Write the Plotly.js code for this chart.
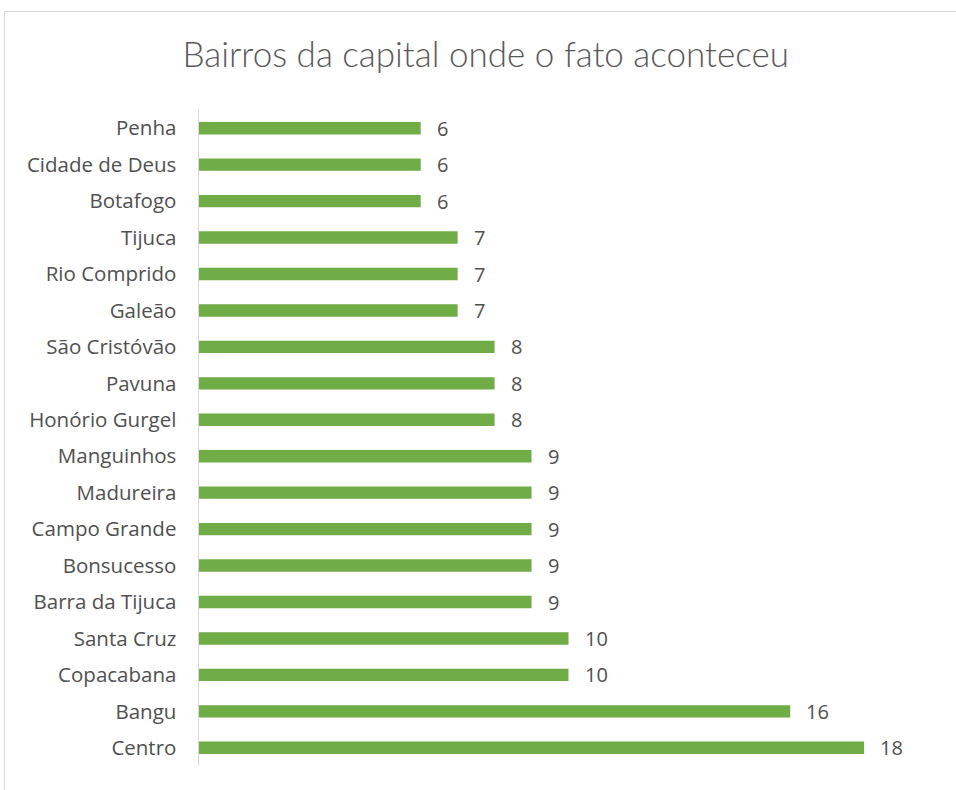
<!DOCTYPE html>
<html>
<head>
<meta charset="utf-8">
<script src="https://cdn.plot.ly/plotly-3.0.1.min.js"></script>
<style>
html,body{margin:0;padding:0;background:#fff;}
#frame{position:absolute;left:4px;top:11px;width:1000px;height:900px;border:1px solid #d9d9d9;box-sizing:border-box;}
#chart{position:absolute;left:0;top:0;width:956px;height:790px;}
</style>
</head>
<body>
<div id="frame"></div>
<div id="chart"></div>
<script>
const categories = ["Centro","Bangu","Copacabana","Santa Cruz","Barra da Tijuca","Bonsucesso","Campo Grande","Madureira","Manguinhos","Honório Gurgel","Pavuna","São Cristóvão","Galeão","Rio Comprido","Tijuca","Botafogo","Cidade de Deus","Penha"];
const values = [18,16,10,10,9,9,9,9,9,8,8,8,7,7,7,6,6,6];
const titleText = "Bairros da capital onde o fato aconteceu";

const FONT = "'Open Sans', Lato, sans-serif";
const TFONT = "Lato, 'Open Sans', sans-serif";

const trace = {
  type: "bar",
  orientation: "h",
  y: categories,
  x: values,
  marker: {color: "#70AD47"},
  hoverinfo: "skip"
};

const annotations = categories.map((c, i) => ({
  x: values[i], y: c, xref: "x", yref: "y",
  text: String(values[i]), showarrow: false,
  xanchor: "left", xshift: 14,
  font: {family: FONT, size: 20, color: "#505050"}
}));

const layout = {
  width: 956, height: 790,
  paper_bgcolor: "rgba(0,0,0,0)", plot_bgcolor: "rgba(0,0,0,0)",
  margin: {l: 199, r: 18, t: 110, b: 24},
  title: {text: titleText, x: 0.508, xanchor: "center", y: 0.931, yanchor: "middle",
          font: {family: TFONT, size: 35, color: "#595959", weight: 300}},
  bargap: 0.66,
  showlegend: false,
  xaxis: {range: [0, 20], visible: false, fixedrange: true},
  yaxis: {type: "category", showline: true, linecolor: "#d9d9d9", linewidth: 1.5,
          showgrid: false, zeroline: false, ticks: "", ticklabelstandoff: 17,
          tickfont: {family: FONT, size: 20.5, color: "#505050"}},
  annotations: annotations
};

Plotly.newPlot("chart", [trace], layout, {displayModeBar: false, staticPlot: true});
</script>
</body>
</html>
